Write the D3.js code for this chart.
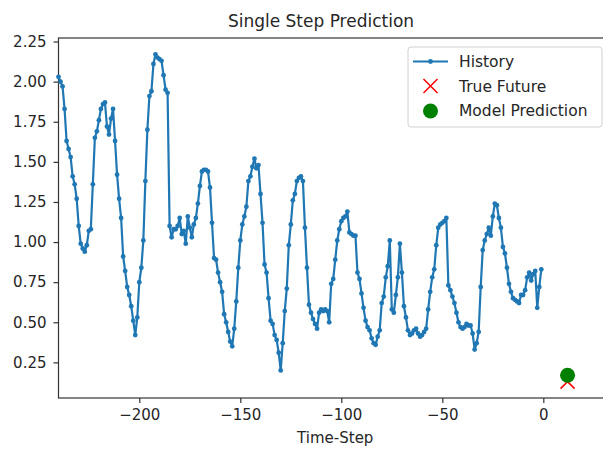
<!DOCTYPE html>
<html>
<head>
<meta charset="utf-8">
<script src="https://cdn.jsdelivr.net/npm/d3@7"></script>
<style>
  body { margin: 0; background: #fff; }
  text { font-family: "DejaVu Sans", sans-serif; fill: #262626; }
</style>
</head>
<body>
<script>
// history values, time steps -240 .. -1
var pastValues = [
  2.03, 2.00, 1.97, 1.83, 1.63, 1.58, 1.53, 1.41, 1.36, 1.27,
  1.10, 0.99, 0.96, 0.94, 0.98, 1.07, 1.08, 1.36, 1.65, 1.69,
  1.76, 1.83, 1.86, 1.87, 1.72, 1.67, 1.77, 1.83, 1.63, 1.42,
  1.27, 1.15, 0.91, 0.82, 0.72, 0.67, 0.60, 0.51, 0.42, 0.53,
  0.75, 0.84, 1.01, 1.38, 1.70, 1.91, 1.94, 2.11, 2.17, 2.15,
  2.14, 2.13, 2.04, 1.95, 1.93, 1.10, 1.03, 1.08, 1.08, 1.10,
  1.15, 1.05, 1.07, 0.99, 1.16, 1.09, 1.03, 1.11, 1.15, 1.24,
  1.35, 1.44, 1.45, 1.45, 1.44, 1.34, 1.12, 0.90, 0.89, 0.81,
  0.75, 0.69, 0.55, 0.50, 0.44, 0.38, 0.35, 0.46, 0.63, 0.84,
  1.01, 1.11, 1.16, 1.22, 1.38, 1.41, 1.47, 1.52, 1.46, 1.48,
  1.30, 1.12, 0.86, 0.81, 0.65, 0.51, 0.49, 0.42, 0.39, 0.31,
  0.20, 0.37, 0.57, 0.71, 0.98, 1.11, 1.26, 1.30, 1.38, 1.40,
  1.41, 1.38, 1.09, 0.84, 0.61, 0.56, 0.52, 0.49, 0.46, 0.56,
  0.58, 0.57, 0.58, 0.57, 0.50, 0.74, 0.77, 0.89, 1.01, 1.08,
  1.13, 1.15, 1.16, 1.19, 1.06, 1.05, 1.04, 1.04, 0.81, 0.77,
  0.68, 0.59, 0.51, 0.47, 0.45, 0.40, 0.37, 0.36, 0.41, 0.45,
  0.62, 0.66, 0.78, 0.85, 1.01, 0.58, 0.56, 0.67, 0.78, 0.99,
  0.81, 0.60, 0.53, 0.45, 0.42, 0.43, 0.45, 0.46, 0.43, 0.41,
  0.42, 0.44, 0.46, 0.58, 0.69, 0.78, 0.83, 0.98, 1.09, 1.11,
  1.12, 1.13, 1.15, 0.73, 0.70, 0.66, 0.62, 0.56, 0.50, 0.47,
  0.46, 0.47, 0.49, 0.48, 0.48, 0.43, 0.33, 0.37, 0.44, 0.72,
  0.95, 1.01, 1.05, 1.09, 1.04, 1.16, 1.24, 1.23, 1.15, 1.09,
  0.97, 0.93, 0.84, 0.74, 0.69, 0.65, 0.64, 0.63, 0.62, 0.67,
  0.67, 0.70, 0.78, 0.81, 0.76, 0.80, 0.82, 0.59, 0.72, 0.83
];
var futureStep = 12;
var trueFuture = [0.13];
var prediction = [0.17];
var xTicks = [-200, -150, -100, -50, 0];
var yTicks = [0.25, 0.50, 0.75, 1.00, 1.25, 1.50, 1.75, 2.00, 2.25];
var labels = ["History", "True Future", "Model Prediction"];

var W = 603, H = 449;
var margin = {top: 38, left: 58.5},
    plotW = 553.5, plotH = 360;

var svg = d3.select("body").append("svg")
    .attr("width", W)
    .attr("height", H);

var steps = pastValues.map(function(d, i) { return i - pastValues.length; });

var x = d3.scaleLinear()
    .domain([steps[0], (futureStep + 5) * 2])
    .range([margin.left, margin.left + plotW]);

var all = pastValues.concat(trueFuture, prediction);
var lo = d3.min(all), hi = d3.max(all), pad = (hi - lo) * 0.05;
var y = d3.scaleLinear()
    .domain([lo - pad, hi + pad])
    .range([margin.top + plotH, margin.top]);

var fmtMinus = function(v) { return String(v).replace("-", "\u2212"); };

var xAxis = d3.axisBottom(x).tickValues(xTicks).tickSize(5).tickPadding(6)
    .tickFormat(fmtMinus);
var yAxis = d3.axisLeft(y).tickValues(yTicks).tickSize(5).tickPadding(7)
    .tickFormat(d3.format(".2f"));

var gx = svg.append("g")
    .attr("transform", "translate(0," + (margin.top + plotH) + ")")
    .call(xAxis);
var gy = svg.append("g")
    .attr("transform", "translate(" + margin.left + ",0)")
    .call(yAxis);

[gx, gy].forEach(function(g) {
  g.select(".domain").remove();
  g.selectAll(".tick line").attr("stroke", "#333").attr("stroke-width", 1.2);
  g.selectAll(".tick text").attr("font-size", 15).attr("fill", "#262626")
    .style("font-family", "DejaVu Sans");
});

// spines
svg.append("rect")
    .attr("x", margin.left)
    .attr("y", margin.top)
    .attr("width", plotW)
    .attr("height", plotH)
    .attr("fill", "none")
    .attr("stroke", "#333")
    .attr("stroke-width", 1.2);

var line = d3.line()
    .x(function(d, i) { return x(steps[i]); })
    .y(function(d) { return y(d); });

svg.append("path")
    .datum(pastValues)
    .attr("fill", "none")
    .attr("stroke", "#1f77b4")
    .attr("stroke-width", 2.2)
    .attr("stroke-linejoin", "round")
    .attr("d", line);

svg.append("g").selectAll("circle")
    .data(pastValues)
  .enter().append("circle")
    .attr("cx", function(d, i) { return x(steps[i]); })
    .attr("cy", function(d) { return y(d); })
    .attr("r", 2.4)
    .attr("fill", "#1f77b4");

function cross(g, cx, cy, s) {
  g.append("path")
    .attr("d", "M" + (cx - s) + "," + (cy - s) + "L" + (cx + s) + "," + (cy + s) +
               "M" + (cx - s) + "," + (cy + s) + "L" + (cx + s) + "," + (cy - s))
    .attr("stroke", "#ff0000")
    .attr("stroke-width", 1.5)
    .attr("fill", "none");
}

trueFuture.forEach(function(d) { cross(svg, x(futureStep), y(d), 7); });

svg.append("g").selectAll("circle")
    .data(prediction)
  .enter().append("circle")
    .attr("cx", x(futureStep))
    .attr("cy", function(d) { return y(d); })
    .attr("r", 7.5)
    .attr("fill", "#008000");

// title and x label
svg.append("text")
    .attr("x", 321)
    .attr("y", 27)
    .attr("text-anchor", "middle")
    .attr("font-size", 17)
    .text("Single Step Prediction");

svg.append("text")
    .attr("x", margin.left + plotW / 2)
    .attr("y", 443)
    .attr("text-anchor", "middle")
    .attr("font-size", 15)
    .text("Time-Step");

// legend
var legend = svg.append("g").attr("transform", "translate(408,47)");
legend.append("rect")
    .attr("width", 194)
    .attr("height", 80)
    .attr("rx", 3)
    .attr("fill", "#fff")
    .attr("stroke", "#d0d0d0");

legend.append("line")
    .attr("x1", 5).attr("x2", 40)
    .attr("y1", 14.5).attr("y2", 14.5)
    .attr("stroke", "#1f77b4").attr("stroke-width", 2.2);
legend.append("circle")
    .attr("cx", 22.5).attr("cy", 14.5).attr("r", 2.4).attr("fill", "#1f77b4");
cross(legend, 22.5, 39, 7);
legend.append("circle")
    .attr("cx", 22.5).attr("cy", 64).attr("r", 7.5).attr("fill", "#008000");

legend.selectAll(".lab")
    .data(labels)
  .enter().append("text")
    .attr("class", "lab")
    .attr("x", 51)
    .attr("y", function(d, i) { return 14.5 + i * 24.7 + 5.5; })
    .attr("font-size", 15.5)
    .text(function(d) { return d; });
</script>
</body>
</html>
